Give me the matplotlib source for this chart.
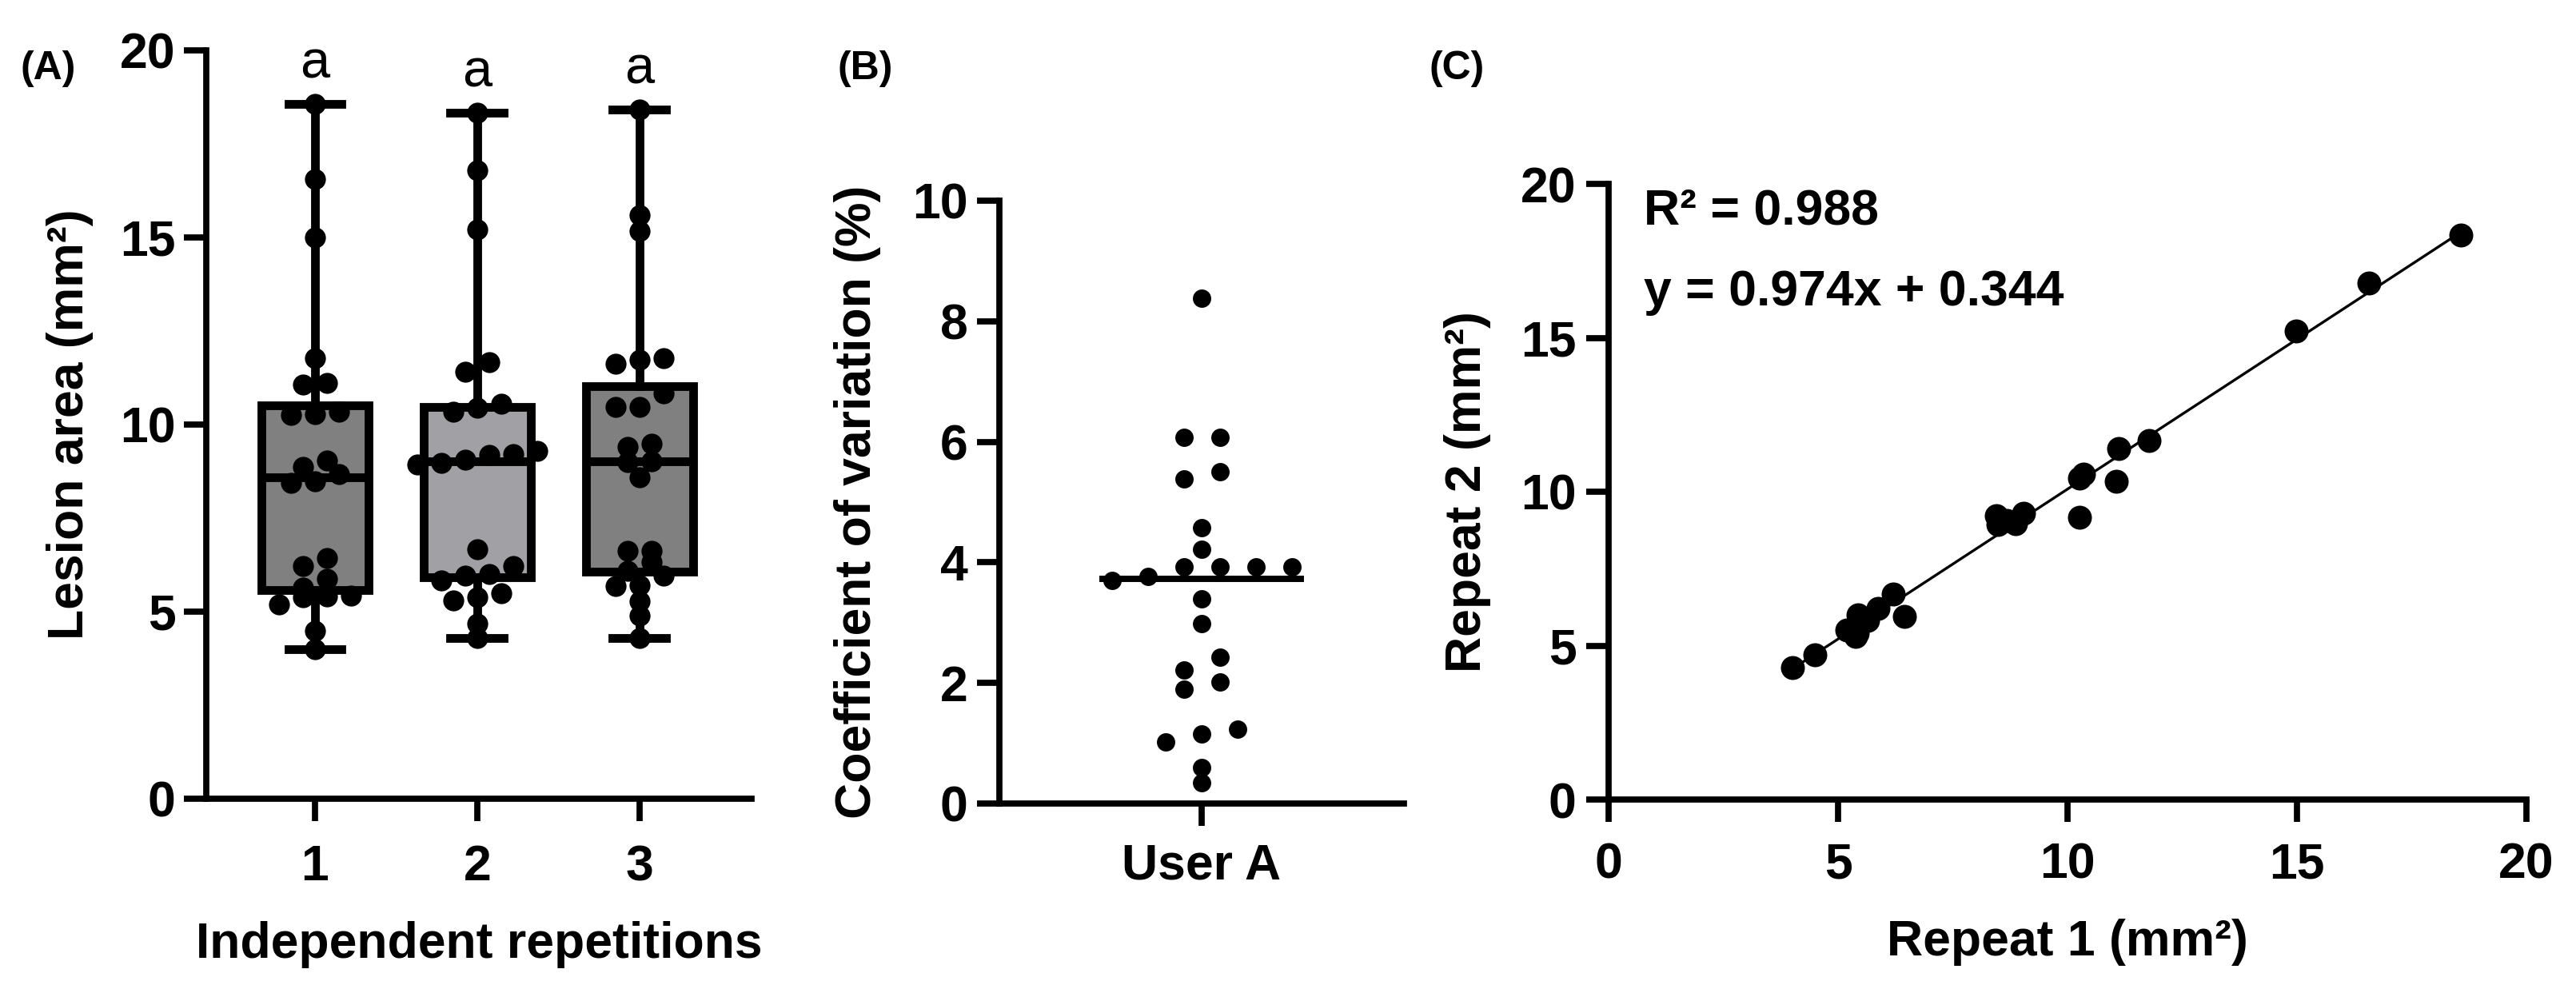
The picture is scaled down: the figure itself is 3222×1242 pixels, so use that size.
import numpy as np
import matplotlib
matplotlib.use("Agg")
import matplotlib.pyplot as plt

# lesion areas (mm2) per independent repetition; rep1[i] and rep2[i] are the same lesion
rep1 = [4.00, 4.49, 5.19, 5.39, 5.41, 5.43, 5.64, 5.87, 6.21, 6.44, 8.45, 8.49,
        8.68, 8.86, 9.04, 10.27, 10.26, 10.34, 11.06, 11.11, 11.77, 14.99, 16.57, 18.57]
rep2 = [4.29, 4.69, 5.50, 5.30, 5.39, 6.01, 5.83, 6.21, 6.67, 5.96, 9.22, 8.93,
        9.07, 8.97, 9.29, 9.18, 10.45, 10.56, 10.34, 11.41, 11.67, 15.21, 16.79, 18.33]
rep3 = [4.29, 4.89, 5.28, 5.68, 5.71, 5.96, 6.10, 6.32, 6.62, 6.62, 8.60, 9.00,
        9.02, 9.40, 9.49, 10.48, 10.48, 10.84, 11.62, 11.73, 11.77, 15.17, 15.60, 18.41]
rep_labels = ["1", "2", "3"]
letters = ["a", "a", "a"]
box_colors = ["#808080", "#a1a1a5", "#808080"]

# coefficient of variation (%) per lesion, user A
cv_user_a = [8.38, 6.08, 6.08, 5.51, 5.39, 4.58, 4.22, 3.93, 3.93, 3.93, 3.93, 3.76,
             3.70, 3.40, 2.98, 2.43, 2.22, 2.01, 1.90, 1.24, 1.16, 1.02, 0.60, 0.34]

fit_slope, fit_icpt = 0.974, 0.344
r2_text = "R\u00b2 = 0.988"
eq_text = "y = 0.974x + 0.344"

plt.rcParams["font.family"] = ["Liberation Sans", "DejaVu Sans"]
plt.rcParams["font.weight"] = "bold"
plt.rcParams["axes.labelweight"] = "bold"

W, H, DPI = 3222, 1242, 300
fig = plt.figure(figsize=(W / DPI, H / DPI), dpi=DPI)


def style(ax, xpad, ypad):
    for s in ("top", "right"):
        ax.spines[s].set_visible(False)
    for s in ("left", "bottom"):
        ax.spines[s].set_linewidth(1.85)
    ax.tick_params(width=1.85, length=6.8, labelsize=15, direction="out")
    ax.tick_params(axis="x", pad=xpad)
    ax.tick_params(axis="y", pad=ypad)


def px_scale(ax):
    b = ax.get_position()
    x0, x1 = ax.get_xlim(); y0, y1 = ax.get_ylim()
    return b.width * W / (x1 - x0), b.height * H / (y1 - y0)


def swarm(vals, ax, row_px, step_px):
    """graphpad-like rows: values closer than row_px share a row, spread step_px apart"""
    vals = np.asarray(vals, float)
    sx, sy = px_scale(ax)
    order = np.argsort(vals)
    offs = np.zeros(len(vals))
    i = 0
    while i < len(vals):
        j = i
        while j < len(vals) and (vals[order[j]] - vals[order[i]]) * sy <= row_px:
            j += 1
        idx = order[i:j]
        offs[idx] = (np.arange(len(idx)) - (len(idx) - 1) / 2) * step_px / sx
        i = j
    return offs


# ---- (A) box plots ----
axA = fig.add_axes([258 / W, 1 - 999 / H, 682 / W, 936 / H])
axA.set_xlim(0.33, 3.69); axA.set_ylim(0, 20)
groups = [rep1, rep2, rep3]
bp = axA.boxplot(groups, positions=[1, 2, 3], widths=0.66, whis=(0, 100),
                 patch_artist=True, showfliers=False, capwidths=0.33,
                 boxprops=dict(linewidth=2.6, edgecolor="black", joinstyle="miter"),
                 medianprops=dict(color="black", linewidth=2.6),
                 whiskerprops=dict(color="black", linewidth=2.6),
                 capprops=dict(color="black", linewidth=2.6))
for patch, c in zip(bp["boxes"], box_colors):
    patch.set_facecolor(c)
for k, g in enumerate(groups):
    xo = swarm(g, axA, 18, 30)
    axA.plot(k + 1 + xo, g, "o", color="black", ms=6.3, mew=0, zorder=5, clip_on=False)
    axA.text(k + 1, max(g) + 0.7, letters[k], ha="center", va="baseline",
             fontsize=16, fontweight="normal")
axA.set_xticks([1, 2, 3]); axA.set_xticklabels(rep_labels)
axA.set_yticks([0, 5, 10, 15, 20])
style(axA, 6.7, 2.4)
axA.set_ylabel("Lesion area (mm\u00b2)", fontsize=15, labelpad=8)
axA.set_xlabel("Independent repetitions", fontsize=15, labelpad=9)

# ---- (B) coefficient of variation ----
axB = fig.add_axes([1250 / W, 1 - 1005 / H, 506 / W, 754 / H])
axB.set_xlim(-1, 1); axB.set_ylim(0, 10)
xo = swarm(cv_user_a, axB, 18, 45)
axB.plot(xo, cv_user_a, "o", color="black", ms=5.5, mew=0, zorder=5, clip_on=False)
med = np.median(cv_user_a)
axB.plot([-0.49, 0.49], [med, med], color="black", lw=1.9, zorder=4)
axB.set_xticks([0]); axB.set_xticklabels(["User A"])
axB.set_yticks([0, 2, 4, 6, 8, 10])
style(axB, 4.8, 2.6)
axB.set_ylabel("Coefficient of variation (%)", fontsize=15, labelpad=9.4)

# ---- (C) repeat 1 vs repeat 2 ----
axC = fig.add_axes([2012 / W, 1 - 1000 / H, 1148 / W, 770 / H])
axC.set_xlim(0, 20); axC.set_ylim(0, 20)
xs = np.array([min(rep1), max(rep1)])
axC.plot(xs, fit_slope * xs + fit_icpt, color="black", lw=0.8, zorder=3)
axC.plot(rep1, rep2, "o", color="black", ms=7.2, mew=0, zorder=5)
axC.text(0.77, 18.7, r2_text, fontsize=15, va="baseline")
axC.text(0.77, 16.05, eq_text, fontsize=15, va="baseline")
axC.set_xticks([0, 5, 10, 15, 20]); axC.set_yticks([0, 5, 10, 15, 20])
style(axC, 5.8, 2.9)
axC.set_xlabel("Repeat 1 (mm\u00b2)", fontsize=15, labelpad=9)
axC.set_ylabel("Repeat 2 (mm\u00b2)", fontsize=15, labelpad=8.9)

for lab, x in (("(A)", 26), ("(B)", 1047), ("(C)", 1788)):
    fig.text(x / W, 1 - 86 / H, lab, fontsize=12, fontweight="bold", va="center", ha="left")

fig.savefig("out.png", dpi=DPI)
